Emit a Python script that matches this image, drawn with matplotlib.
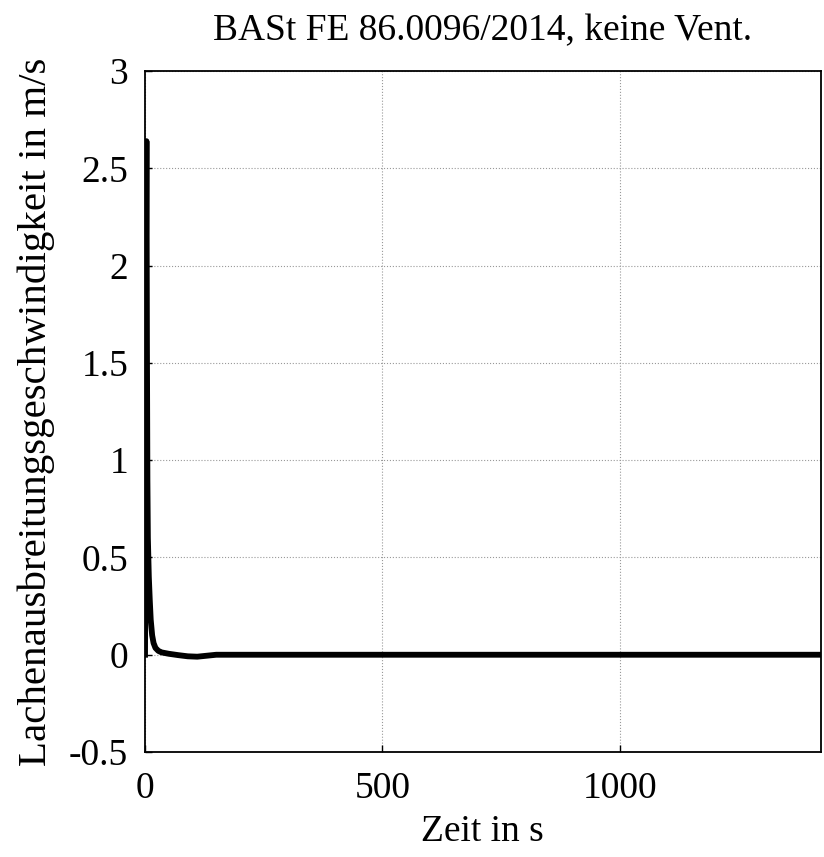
import numpy as np
import matplotlib
matplotlib.use("Agg")
import matplotlib.pyplot as plt

# pool spreading velocity
zeit = [0, 1, 2, 3, 4, 5, 6, 8, 10, 12, 15, 18, 22, 28, 35, 50, 70, 90, 110, 130, 150,
        300, 600, 900, 1200, 1423]
geschw = [0.0, 0.8, 2.0, 2.64, 1.6, 0.9, 0.6, 0.4, 0.28, 0.18, 0.1, 0.06, 0.035, 0.02,
          0.012, 0.005, -0.002, -0.008, -0.01, -0.005, 0.0, 0.0, 0.0, 0.0, 0.0, 0.0]

xticks = [0, 500, 1000]
yticks = [-0.5, 0, 0.5, 1, 1.5, 2, 2.5, 3]
yticklabels = ["-0.5", "0", "0.5", "1", "1.5", "2", "2.5", "3"]

plt.rcParams['font.family'] = ['Liberation Serif', 'DejaVu Serif']

fig = plt.figure(figsize=(8.24, 8.57), dpi=100)
ax = fig.add_axes([0.176, 0.1225, 0.82, 0.7945])

ax.plot(zeit, geschw, color="black", lw=4.2, solid_joinstyle="round")

ax.set_xlim(0, 1423)
ax.set_ylim(-0.5, 3)
ax.set_xticks(xticks)
ax.set_yticks(yticks)
ax.set_yticklabels(yticklabels)
ax.tick_params(direction="in", labelsize=27, length=5, width=1)
ax.tick_params(axis="x", pad=14)
ax.tick_params(axis="y", pad=12)
ax.grid(True, color="#999999", linestyle=":", lw=0.8)
for s in ax.spines.values():
    s.set_linewidth(1.3)

ax.set_title("BASt FE 86.0096/2014, keine Vent.", fontsize=27, pad=22)
ax.set_xlabel("Zeit in s", fontsize=27, labelpad=6)
ax.set_ylabel("Lachenausbreitungsgeschwindigkeit in m/s", fontsize=29.5, labelpad=10)

fig.savefig("out.png", dpi=100)
